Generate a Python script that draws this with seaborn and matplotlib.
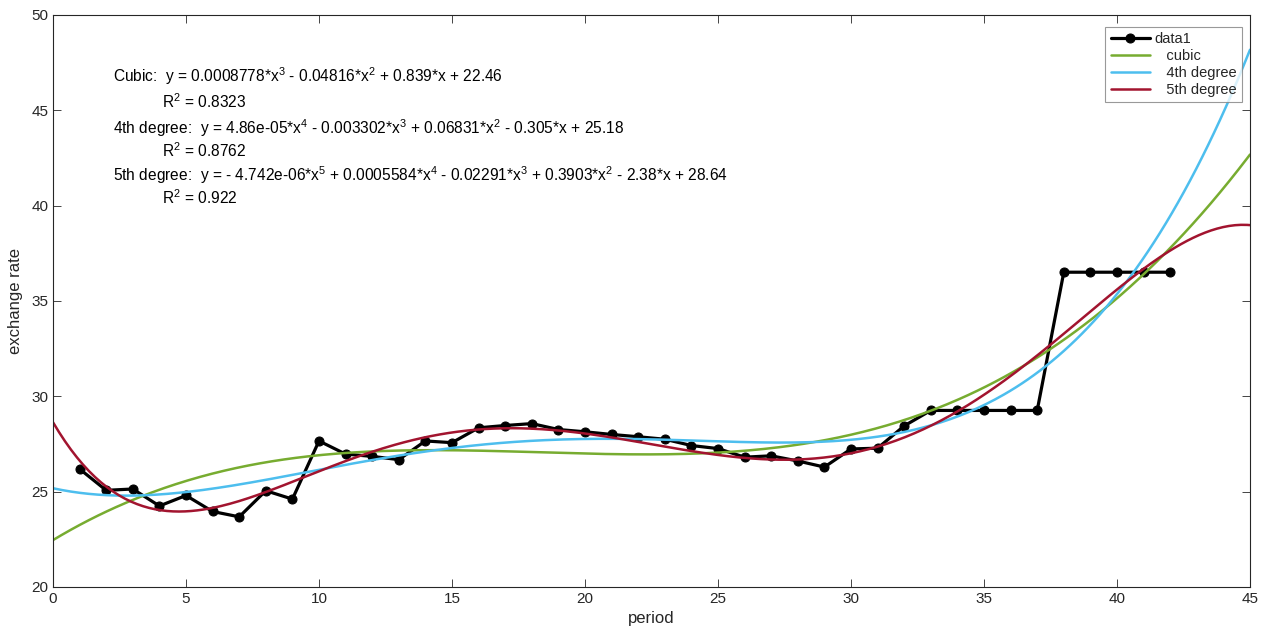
import numpy as np
import pandas as pd
import matplotlib
matplotlib.use("Agg")
import matplotlib.pyplot as plt
import seaborn as sns

# ---- data ----
period = list(range(1, 43))
rate = [26.19, 25.07, 25.14, 24.25, 24.80, 23.96, 23.68, 25.05, 24.61, 27.66,
        26.97, 26.85, 26.68, 27.66, 27.57, 28.35, 28.47, 28.57, 28.26, 28.14,
        28.00, 27.88, 27.75, 27.42, 27.26, 26.81, 26.88, 26.61, 26.29, 27.24,
        27.28, 28.45, 29.26, 29.26, 29.26, 29.26, 29.26, 36.51, 36.51, 36.51,
        36.51, 36.51]

cubic_coef = [0.0008778, -0.04816, 0.839, 22.46]
quart_coef = [4.86e-05, -0.003302, 0.06831, -0.305, 25.18]
quint_coef = [-4.742e-06, 0.0005584, -0.02291, 0.3903, -2.38, 28.64]

fit_labels = ["   cubic", "   4th degree", "   5th degree"]
eq_texts = [
    r"Cubic:  y = 0.0008778*x$^3$ - 0.04816*x$^2$ + 0.839*x + 22.46",
    r"R$^2$ = 0.8323",
    r"4th degree:  y = 4.86e-05*x$^4$ - 0.003302*x$^3$ + 0.06831*x$^2$ - 0.305*x + 25.18",
    r"R$^2$ = 0.8762",
    r"5th degree:  y = - 4.742e-06*x$^5$ + 0.0005584*x$^4$ - 0.02291*x$^3$ + 0.3903*x$^2$ - 2.38*x + 28.64",
    r"R$^2$ = 0.922",
]

sns.set_style("white")
plt.rcParams['font.family'] = ['Liberation Sans', 'DejaVu Sans']
plt.rcParams['mathtext.fontset'] = 'custom'
plt.rcParams['mathtext.rm'] = 'Liberation Sans'
plt.rcParams['mathtext.it'] = 'Liberation Sans'

fig = plt.figure(figsize=(12.7, 6.37), dpi=100)
ax = fig.add_axes([53/1270, 1 - 587/637, (1250-53)/1270, (587-15)/637])

xs = np.linspace(0, 45, 400)
colors = ["#77AC30", "#4DBEEE", "#A2142F"]

sns.lineplot(x=period, y=rate, ax=ax, color="black", lw=2.3, marker="o",
             markersize=6.5, markeredgecolor="black", label="data1")
for coef, col, lab in zip([cubic_coef, quart_coef, quint_coef], colors, fit_labels):
    sns.lineplot(x=xs, y=np.polyval(coef, xs), ax=ax, color=col, lw=1.8, label=lab)

ax.set_xlim(0, 45)
ax.set_ylim(20, 50)
ax.set_xticks(range(0, 46, 5))
ax.set_yticks(range(20, 51, 5))
ax.tick_params(direction="in", length=6, width=0.6, colors="#262626",
               labelsize=11, top=True, right=True, bottom=True, left=True)
for s in ax.spines.values():
    s.set_linewidth(0.8)
    s.set_color("#262626")
ax.set_xlabel("period", fontsize=12, labelpad=4)
ax.set_ylabel("exchange rate", fontsize=12, labelpad=6)

# equation annotations
ys = [46.8, 45.45, 44.07, 42.86, 41.6, 40.4]
xs_t = [2.26, 4.1, 2.26, 4.1, 2.26, 4.1]
for t, xv, yv in zip(eq_texts, xs_t, ys):
    ax.text(xv, yv, t, fontsize=11.2, va="center", ha="left", color="black")

leg = ax.legend(loc="upper right", bbox_to_anchor=((1242-53)/1197, (587-27)/572),
                borderaxespad=0, fontsize=10.5,
                frameon=True, fancybox=False, handlelength=2.7,
                borderpad=0.35, labelspacing=0.2, handletextpad=0.3)
leg.get_frame().set_edgecolor("#808080")
leg.get_frame().set_linewidth(0.8)

fig.savefig("out.png", dpi=100, facecolor="white")
